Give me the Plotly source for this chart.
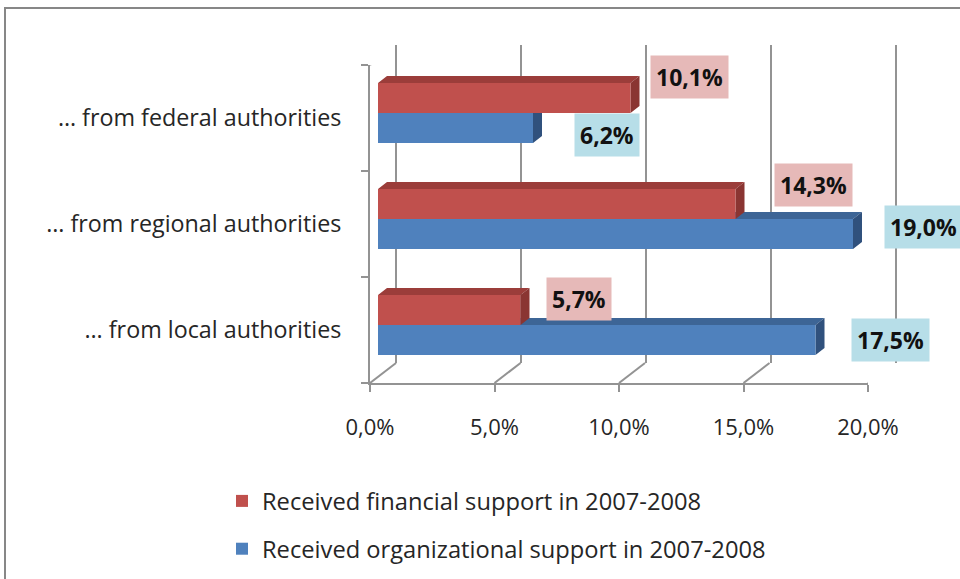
import plotly.graph_objects as go

# ---------------- data ----------------
categories = ["… from federal authorities", "… from regional authorities", "… from local authorities"]
financial = [10.1, 14.3, 5.7]
organizational = [6.2, 19.0, 17.5]
series_names = ["Received financial support in 2007-2008",
                "Received organizational support in 2007-2008"]
tick_values = [0, 5, 10, 15, 20]
tick_labels = ["0,0%", "5,0%", "10,0%", "15,0%", "20,0%"]

# ---------------- style ----------------
W, H = 960, 579
def px(x):
    return x / W
def py(y):
    return 1 - y / H

GRAY = "#939393"
TEXT = "#262626"
FONT = "Open Sans"
RED, RED_TOP, RED_SIDE = "#C0504D", "#9B3D3A", "#8A3532"
BLUE, BLUE_TOP, BLUE_SIDE = "#4F81BD", "#3D6596", "#30517D"
RED_LBL, BLUE_LBL = "#E6B9B8", "#B7DEE8"

BAR_W = 0.283
BARGAP = 1 - 2 * BAR_W
# bar area: x 378..878 px for 0..20 ; y 60..378 px for -0.5..2.5
BAR_X0, BAR_X1, BAR_Y0, BAR_Y1 = 378, 878, 60, 378
DDX = 9 / ((BAR_X1 - BAR_X0) / 20.0)
DDY = 7 / ((BAR_Y1 - BAR_Y0) / 3.0)

# back wall: 0..20 at 396..896 px, padded range so edge lines are not clipped
WALL_PAD = 0.4
WALL_X0, WALL_X1 = 396 - WALL_PAD * 25, 896 + WALL_PAD * 25

# label offsets (pixels) relative to the bar end / bar centre
LBL_DX_FIN = [59, 78, 58]
LBL_DY_FIN = [21, 19, 11]
LBL_DX_ORG = [74, 70, 75]
LBL_DY_ORG = [-7, 7, 0]


def pct(v):
    return f"{v:.1f}".replace(".", ",") + "%"


def faces(values, upper):
    tx, ty, sx, sy = [], [], [], []
    for i, v in enumerate(values):
        yt = i - BAR_W if upper else i
        yb = yt + BAR_W
        tx += [0, v, v + DDX, DDX, 0, None]
        ty += [yt, yt, yt - DDY, yt - DDY, yt, None]
        sx += [v, v + DDX, v + DDX, v, v, None]
        sy += [yt, yt - DDY, yb - DDY, yb, yt, None]
    return (tx, ty), (sx, sy)


fig = go.Figure()

(fbt, fbs) = faces(organizational, False)
(frt, frs) = faces(financial, True)
for (xs, ys), col in [(fbt, BLUE_TOP), (fbs, BLUE_SIDE), (frt, RED_TOP), (frs, RED_SIDE)]:
    fig.add_trace(go.Scatter(x=xs, y=ys, fill="toself", mode="lines",
                             line=dict(width=0), fillcolor=col,
                             hoverinfo="skip", showlegend=False,
                             xaxis="x3", yaxis="y3"))

ypos = list(range(len(categories)))
fig.add_trace(go.Bar(y=ypos, x=financial, orientation="h", name=series_names[0],
                     marker=dict(color=RED, line=dict(width=0)),
                     legendgroup="a", xaxis="x4", yaxis="y4"))
fig.add_trace(go.Bar(y=ypos, x=organizational, orientation="h", name=series_names[1],
                     marker=dict(color=BLUE, line=dict(width=0)),
                     legendgroup="b", xaxis="x4", yaxis="y4"))

LBL_FONT = dict(family=FONT, size=23, color="#111111", weight="bold")
annotations = []
for i, v in enumerate(financial):
    annotations.append(dict(x=v, y=i - BAR_W / 2, xref="x4", yref="y4", text=pct(v),
                            showarrow=False, xanchor="center", yanchor="middle",
                            xshift=LBL_DX_FIN[i], yshift=LBL_DY_FIN[i],
                            bgcolor=RED_LBL, borderpad=5, font=LBL_FONT))
for i, v in enumerate(organizational):
    annotations.append(dict(x=v, y=i + BAR_W / 2, xref="x4", yref="y4", text=pct(v),
                            showarrow=False, xanchor="center", yanchor="middle",
                            xshift=LBL_DX_ORG[i], yshift=LBL_DY_ORG[i],
                            bgcolor=BLUE_LBL, borderpad=5, font=LBL_FONT))

shapes = []
# back wall gridlines
for v in tick_values:
    shapes.append(dict(type="line", xref="x", yref="y", x0=v, x1=v, y0=0, y1=1,
                       line=dict(color=GRAY, width=2), layer="below"))
# floor diagonals
for v in tick_values:
    shapes.append(dict(type="line", xref="x2", yref="y2", xsizemode="pixel", ysizemode="pixel",
                       xanchor=v, yanchor=2.5, x0=0, x1=26, y0=0, y1=20,
                       line=dict(color=GRAY, width=2), layer="below"))
# left wall top diagonal
shapes.append(dict(type="line", xref="x2", yref="y2", xsizemode="pixel", ysizemode="pixel",
                   xanchor=0, yanchor=-0.5, x0=0, x1=26, y0=0, y1=20,
                   line=dict(color=GRAY, width=2), layer="below"))
# outer frame
shapes.append(dict(type="rect", xref="paper", yref="paper",
                   x0=px(5), x1=px(966), y0=py(585), y1=py(8),
                   line=dict(color="#878787", width=2)))

fig.update_layout(
    width=W, height=H,
    margin=dict(l=0, r=0, t=0, b=0, autoexpand=False),
    paper_bgcolor="white", plot_bgcolor="rgba(0,0,0,0)",
    barmode="group", bargap=BARGAP,
    font=dict(family=FONT, color=TEXT),
    showlegend=True,
    legend=dict(x=px(222), y=py(479), xanchor="left", yanchor="top",
                traceorder="grouped", tracegroupgap=14,
                font=dict(family=FONT, size=23.7, color=TEXT),
                bgcolor="rgba(0,0,0,0)"),
    # back wall
    xaxis=dict(domain=[px(WALL_X0), px(WALL_X1)], range=[-WALL_PAD, 20 + WALL_PAD],
               visible=False, anchor="y", fixedrange=True),
    yaxis=dict(domain=[py(363), py(45)], range=[0, 1], visible=False, anchor="x",
               fixedrange=True),
    # front axis + category labels
    xaxis2=dict(domain=[px(370), px(868)], range=[0, 20], tickvals=tick_values,
                ticktext=tick_labels, ticks="outside", ticklen=7, tickwidth=2,
                tickcolor=GRAY, showline=True, linecolor=GRAY, linewidth=2,
                showgrid=False, zeroline=False, anchor="y2", ticklabelstandoff=17,
                tickfont=dict(family=FONT, size=22, color=TEXT), fixedrange=True),
    yaxis2=dict(domain=[py(383), py(65)], range=[2.5, -0.5], tickvals=ypos,
                ticktext=categories, ticks="", showline=True, linecolor=GRAY,
                linewidth=2, showgrid=False, zeroline=False, anchor="x2",
                minor=dict(tickvals=[-0.5, 0.5, 1.5, 2.5], ticks="outside", ticklen=7,
                           tickwidth=2, tickcolor=GRAY, showgrid=False),
                ticklabelstandoff=22,
                tickfont=dict(family=FONT, size=23.3, color=TEXT), fixedrange=True),
    # bar faces
    xaxis3=dict(domain=[px(BAR_X0), px(BAR_X1)], range=[0, 20], visible=False,
                anchor="y3", fixedrange=True),
    yaxis3=dict(domain=[py(BAR_Y1), py(BAR_Y0)], range=[2.5, -0.5], visible=False,
                anchor="x3", fixedrange=True),
    # bar fronts
    xaxis4=dict(overlaying="x3", range=[0, 20], visible=False, anchor="y4", fixedrange=True),
    yaxis4=dict(overlaying="y3", range=[2.5, -0.5], visible=False, anchor="x4", fixedrange=True),
    annotations=annotations,
    shapes=shapes,
)

fig.write_html("out.html", config={"displayModeBar": False},
               post_script="document.body.style.margin='0';document.body.style.overflow='hidden';")
